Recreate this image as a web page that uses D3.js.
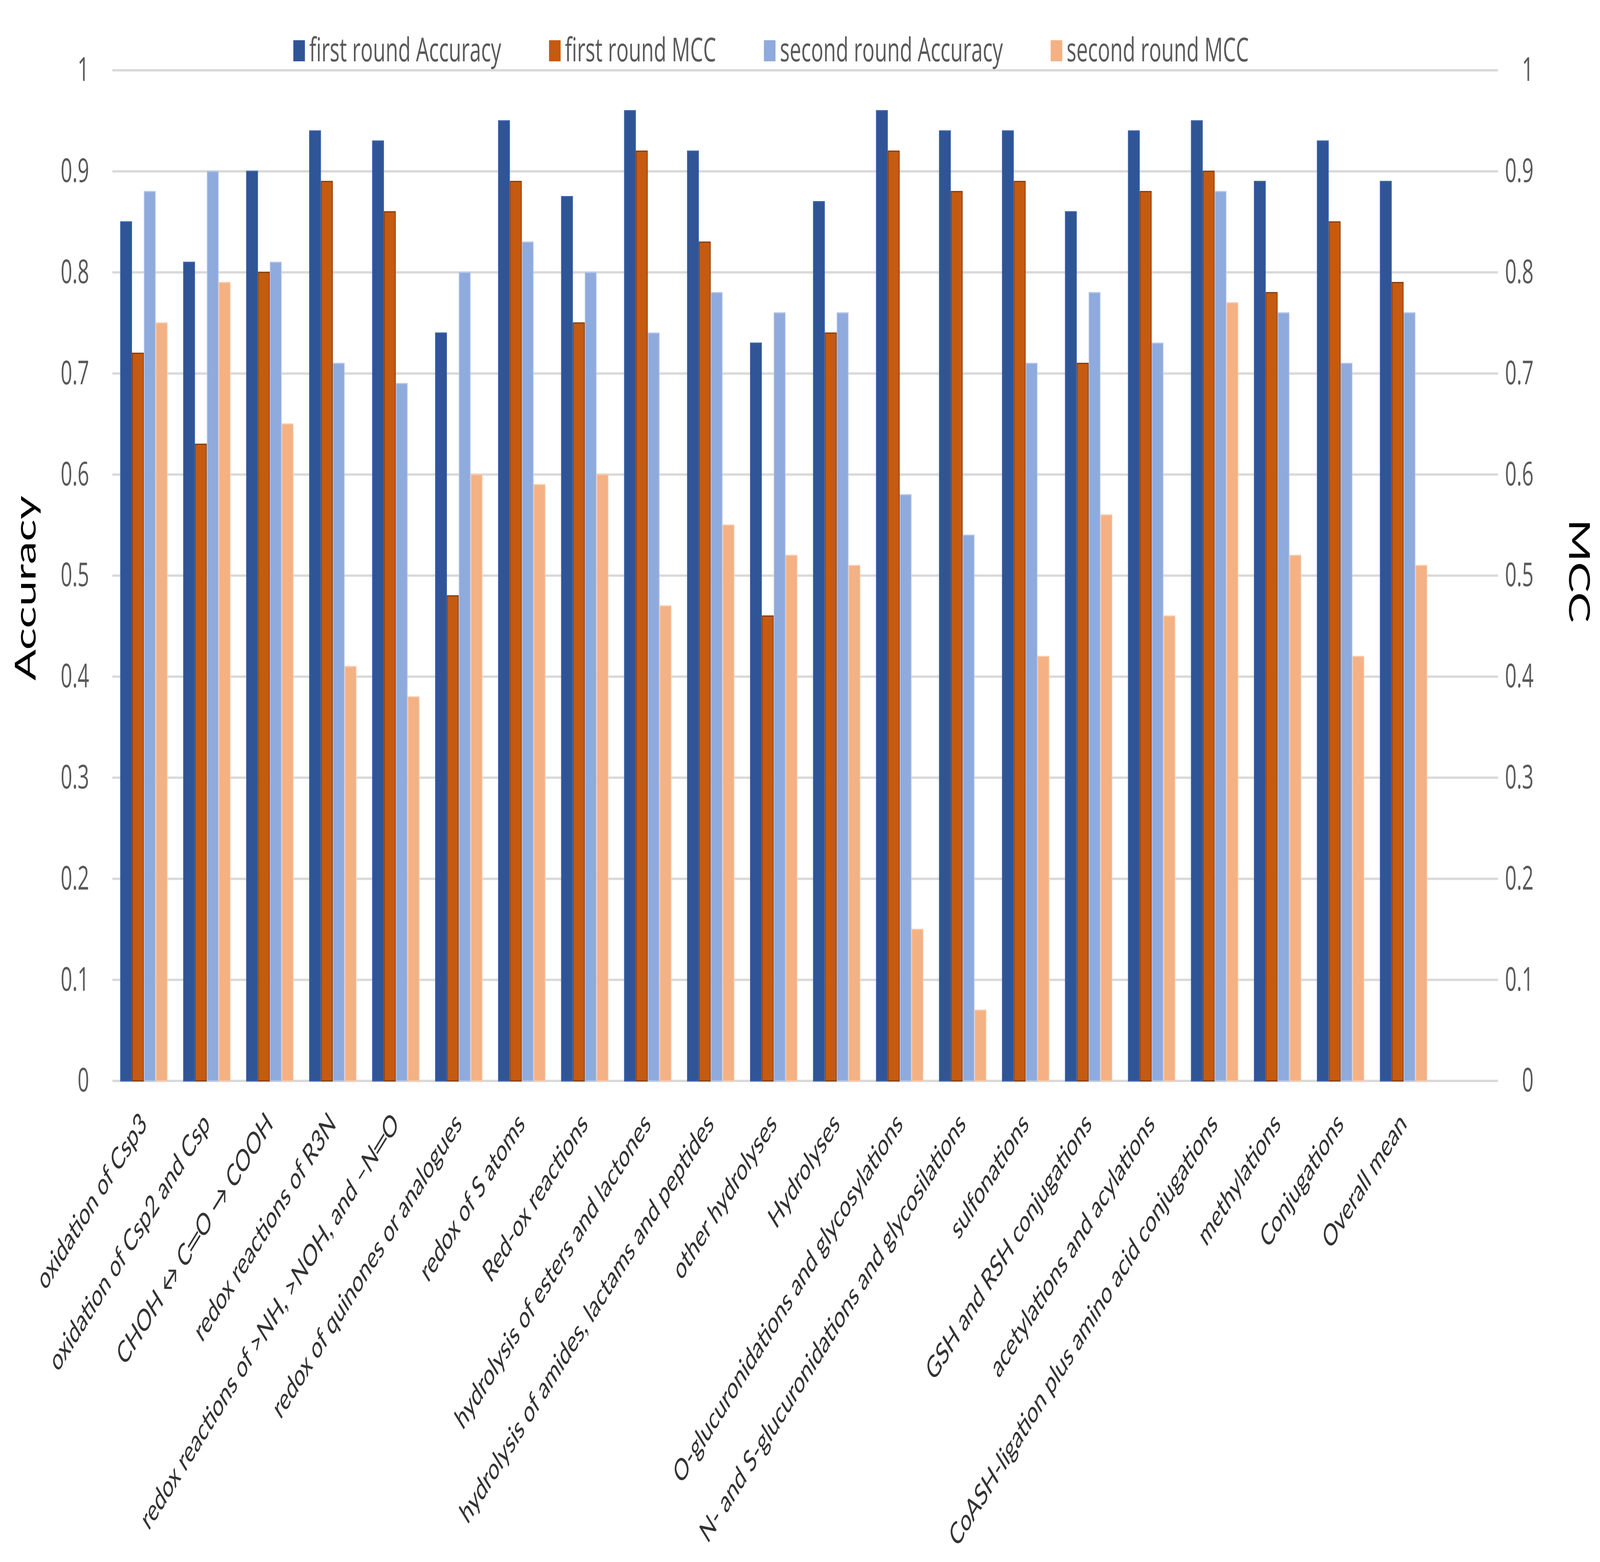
<!DOCTYPE html>
<html><head><meta charset="utf-8">
<script src="https://cdn.jsdelivr.net/npm/d3@7"></script>
<style>html,body{margin:0;padding:0;background:#fff;overflow:hidden}svg{display:block;width:100vw;height:100vh}</style>
</head><body><svg id="c" viewBox="0 0 6622 4000" preserveAspectRatio="none"></svg>
<script>
const categories = [
  "oxidation of Csp3",
  "oxidation of Csp2 and Csp",
  "CHOH ↔ C═O → COOH",
  "redox reactions of R3N",
  "redox reactions of >NH, >NOH, and –N═O",
  "redox of quinones or analogues",
  "redox of S atoms",
  "Red-ox reactions",
  "hydrolysis of esters and lactones",
  "hydrolysis of amides, lactams and peptides",
  "other hydrolyses",
  "Hydrolyses",
  "O-glucuronidations and glycosylations",
  "N- and S-glucuronidations and glycosilations",
  "sulfonations",
  "GSH and RSH conjugations",
  "acetylations and acylations",
  "CoASH-ligation plus amino acid conjugations",
  "methylations",
  "Conjugations",
  "Overall mean",
  ""
];
const firstAcc  = [0.85,0.81,0.90,0.94,0.93,0.74,0.95,0.875,0.96,0.92,0.73,0.87,0.96,0.94,0.94,0.86,0.94,0.95,0.89,0.93,0.89,null];
const firstMCC  = [0.72,0.63,0.80,0.89,0.86,0.48,0.89,0.75,0.92,0.83,0.46,0.74,0.92,0.88,0.89,0.71,0.88,0.90,0.78,0.85,0.79,null];
const secondAcc = [0.88,0.90,0.81,0.71,0.69,0.80,0.83,0.80,0.74,0.78,0.76,0.76,0.58,0.54,0.71,0.78,0.73,0.88,0.76,0.71,0.76,null];
const secondMCC = [0.75,0.79,0.65,0.41,0.38,0.60,0.59,0.60,0.47,0.55,0.52,0.51,0.15,0.07,0.42,0.56,0.46,0.77,0.52,0.42,0.51,null];
const seriesNames = ["first round Accuracy","first round MCC","second round Accuracy","second round MCC"];
const yTicks = [0,0.1,0.2,0.3,0.4,0.5,0.6,0.7,0.8,0.9,1];
const yTickLabels = ["0","0.1","0.2","0.3","0.4","0.5","0.6","0.7","0.8","0.9","1"];
const leftTitle = "Accuracy";
const rightTitle = "MCC";

const series = [
  {name: seriesNames[0], values: firstAcc,  axis: "L", fill: "#2F5597", stroke: "#3A62A8"},
  {name: seriesNames[1], values: firstMCC,  axis: "R", fill: "#C55A11", stroke: "#843C0C"},
  {name: seriesNames[2], values: secondAcc, axis: "L", fill: "#8FAADC", stroke: "#B4C7E7"},
  {name: seriesNames[3], values: secondMCC, axis: "R", fill: "#F4B183", stroke: "#F8CBAD"}
];

const svg = d3.select("#c");
const L = 465, R = 6200, T = 180, B = 2768;
const x = d3.scaleBand().domain(categories).range([L, R]).paddingInner(0).paddingOuter(0);
const xs = d3.scaleBand().domain(seriesNames).range([0, x.bandwidth()]).paddingInner(0).paddingOuter(0.66);
const yL = d3.scaleLinear().domain([0, 1]).range([B, T]);
const yR = d3.scaleLinear().domain([0, 1]).range([B, T]);

// gridlines
svg.append("g").selectAll("line").data(yTicks).join("line")
  .attr("x1", L).attr("x2", R)
  .attr("y1", d => yL(d)).attr("y2", d => yL(d))
  .attr("stroke", "#d9d9d9").attr("stroke-width", 6);

// bars
series.forEach(s => {
  const y = s.axis === "L" ? yL : yR;
  svg.append("g").selectAll("rect")
    .data(categories.map((c, i) => ({c, v: s.values[i]})).filter(d => d.v != null))
    .join("rect")
    .attr("x", d => x(d.c) + xs(s.name) + 1.5)
    .attr("width", xs.bandwidth() - 3)
    .attr("y", d => y(d.v))
    .attr("height", d => y(0) - y(d.v))
    .attr("fill", s.fill)
    .attr("stroke", s.stroke)
    .attr("stroke-width", 3);
});

// left axis
const fmt = d => yTickLabels[yTicks.indexOf(d)];
const gl = svg.append("g").attr("transform", `translate(${L},0)`)
  .call(d3.axisLeft(yL).tickValues(yTicks).tickFormat(fmt).tickSize(0).tickPadding(96));
gl.select(".domain").remove();
gl.selectAll("text").attr("font-family", "'Open Sans'").attr("font-size", 84).attr("fill", "#595959");

// right axis
const gr = svg.append("g").attr("transform", `translate(${R},0)`)
  .call(d3.axisRight(yR).tickValues(yTicks).tickFormat(fmt).tickSize(0).tickPadding(147));
gr.select(".domain").remove();
gr.selectAll("text").attr("font-family", "'Open Sans'").attr("font-size", 84).attr("fill", "#595959").attr("text-anchor", "end");

// x axis labels
const gx = svg.append("g").attr("transform", `translate(0,${B})`)
  .call(d3.axisBottom(x).tickSize(0).tickPadding(0));
gx.select(".domain").remove();
gx.selectAll(".tick text")
  .attr("font-family", "Lato").attr("font-size", 78).attr("fill", "#333333")
  .attr("text-anchor", "end").attr("dy", null).attr("y", null)
  .attr("transform", `translate(${17},${114}) rotate(-45)`);

// axis titles
svg.append("text").attr("transform", "translate(147,1506) rotate(-90)")
  .attr("text-anchor", "middle").attr("font-family", "Lato").attr("font-size", 118)
  .attr("fill", "#000").text(leftTitle);
svg.append("text").attr("transform", "translate(6494,1462) rotate(90)")
  .attr("text-anchor", "middle").attr("font-family", "Lato").attr("font-size", 118)
  .attr("fill", "#000").text(rightTitle);

// legend
const lg = svg.append("g");
let lx = 1214;
series.forEach(s => {
  lg.append("rect").attr("x", lx).attr("y", 103).attr("width", 48).attr("height", 54).attr("fill", s.fill);
  const t = lg.append("text").attr("x", lx + 66).attr("y", 157)
    .attr("font-family", "'Open Sans'").attr("font-size", 85).attr("fill", "#595959").text(s.name);
  lx += 66 + t.node().getComputedTextLength() + 198;
});
</script></body></html>
